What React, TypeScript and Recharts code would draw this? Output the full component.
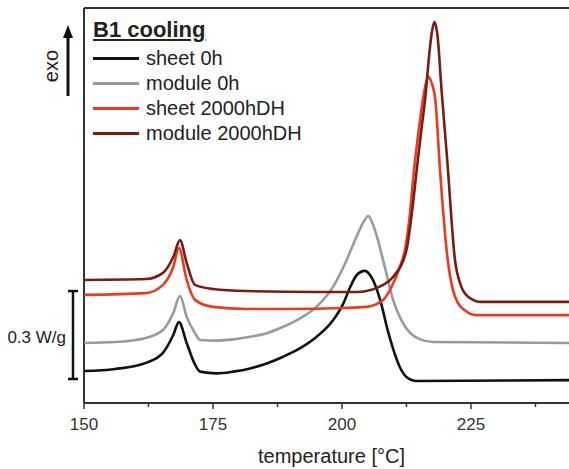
import { Legend, Line, LineChart, ReferenceLine, XAxis, YAxis } from 'recharts';

// temperature [°C] and heat flow [W/g, offset per curve]
const tSheet0h = [150, 156, 162, 165.3, 167.3, 168.4, 169.9, 171.5, 172.5, 175.7, 178.9, 182.2, 185.4, 188.6, 191.9, 195.1, 198.3, 200.3, 201.6, 202.7, 203.6, 204.5, 205.3, 206, 207.4, 209, 211.2, 212.5, 214.5, 244];
const wSheet0h = [0.109, 0.116, 0.137, 0.171, 0.232, 0.276, 0.205, 0.132, 0.107, 0.101, 0.107, 0.118, 0.135, 0.158, 0.187, 0.226, 0.283, 0.341, 0.396, 0.433, 0.447, 0.451, 0.44, 0.42, 0.352, 0.239, 0.123, 0.089, 0.075, 0.078];

const tModule0h = [150, 156, 162, 165.3, 167.3, 168.6, 169.9, 171.5, 172.5, 175.7, 178.9, 182.2, 185.4, 188.6, 191.9, 195.1, 198.3, 200.9, 202.8, 204.2, 205.1, 205.8, 206.5, 208.3, 209.9, 211.5, 213.2, 215, 217.7, 244];
const wModule0h = [0.205, 0.208, 0.222, 0.249, 0.307, 0.365, 0.294, 0.239, 0.215, 0.213, 0.217, 0.226, 0.238, 0.26, 0.289, 0.329, 0.397, 0.488, 0.567, 0.618, 0.638, 0.618, 0.584, 0.464, 0.352, 0.283, 0.239, 0.218, 0.208, 0.205];

const tSheet2000 = [150, 162, 165.3, 167.3, 168.4, 169.9, 171.5, 175, 181.5, 190, 200, 204.8, 208, 209.6, 211.2, 212.2, 213, 214, 215, 216, 216.7, 217.3, 218.1, 219, 220.5, 221.5, 222.5, 224, 226, 244];
const wSheet2000 = [0.369, 0.375, 0.403, 0.464, 0.529, 0.42, 0.352, 0.328, 0.321, 0.321, 0.324, 0.328, 0.352, 0.396, 0.464, 0.522, 0.618, 0.802, 0.949, 1.068, 1.113, 1.096, 1.034, 0.795, 0.488, 0.386, 0.341, 0.314, 0.3, 0.3];

const tModule2000 = [150, 162, 165.3, 167.3, 168.6, 169.9, 171.5, 175, 181.5, 195, 203, 208, 209.9, 212.5, 213.5, 214.7, 215.5, 216.1, 217, 217.4, 217.9, 218.2, 218.5, 219.3, 220.4, 221.9, 223, 224.5, 227, 244];
const wModule2000 = [0.42, 0.423, 0.444, 0.498, 0.556, 0.478, 0.403, 0.389, 0.382, 0.379, 0.379, 0.403, 0.43, 0.522, 0.642, 0.829, 0.949, 1.034, 1.205, 1.263, 1.3, 1.287, 1.256, 1.068, 0.829, 0.488, 0.403, 0.362, 0.345, 0.345];

const seriesNames = ['sheet 0h', 'module 0h', 'sheet 2000hDH', 'module 2000hDH'];
const seriesColors = ['#111111', '#9a9a9a', '#ea3b1e', '#7a1c12'];

const xTicks = [150, 162.5, 175, 187.5, 200, 212.5, 225, 237.5];
const majorTicks = [150, 175, 200, 225];

const W = 569;
const H = 469;
const X_AXIS_H = 66;
const M = { top: 8, right: 0, bottom: 0, left: 84 };
const X_MIN = 150;
const X_MAX = 244;
const Y_MAX = 1.348;
const FONT = '"Liberation Sans", Arial, Helvetica, sans-serif';

const pts = (t: number[], w: number[]) => t.map((x, i) => ({ x, y: w[i] }));
const series = [
    pts(tSheet0h, wSheet0h),
    pts(tModule0h, wModule0h),
    pts(tSheet2000, wSheet2000),
    pts(tModule2000, wModule2000),
];

// pixel y of a heat-flow value (for the scale bar drawn outside the plot)
const yPix = (v: number) => M.top + (1 - v / Y_MAX) * (H - M.top - X_AXIS_H);

function XTick({ x, y, payload }: any) {
    const major = majorTicks.includes(payload.value);
    return (
        <g>
            <line x1={x} x2={x} y1={y} y2={y + (major ? 6 : 4)} stroke="#333" strokeWidth={1.5} />
            {major && (
                <text x={x} y={y + 27} textAnchor="middle" fontSize={17} fontFamily={FONT} fill="#333">
                    {payload.value}
                </text>
            )}
        </g>
    );
}

function LegendBox({ payload }: any) {
    const items = [...(payload || [])].sort(
        (a: any, b: any) => seriesNames.indexOf(a.value) - seriesNames.indexOf(b.value),
    );
    return (
        <div style={{ fontFamily: FONT, color: '#222' }}>
            <div style={{ height: 28, lineHeight: '24px', fontSize: 22, fontWeight: 'bold', textDecoration: 'underline' }}>
                B1 cooling
            </div>
            {items.map((p: any) => (
                <div key={p.value} style={{ display: 'flex', alignItems: 'center', height: 25, fontSize: 20 }}>
                    <span style={{ display: 'inline-block', width: 46, height: 3, background: p.color, marginRight: 7 }} />
                    {p.value}
                </div>
            ))}
        </div>
    );
}

export default function App() {
    const barTop = yPix(0.382);
    const barBottom = yPix(0.082);
    return (
        <div style={{ position: 'absolute', left: 0, top: 0, width: W, height: H, background: '#fff' }}>
            <LineChart width={W} height={H} margin={M}>
                <XAxis
                    dataKey="x"
                    type="number"
                    domain={[X_MIN, X_MAX]}
                    ticks={xTicks}
                    tick={<XTick />}
                    tickLine={false}
                    tickSize={0}
                    tickMargin={0}
                    height={X_AXIS_H}
                    axisLine={{ stroke: '#333', strokeWidth: 2 }}
                    allowDataOverflow
                    label={{ value: 'temperature [°C]', position: 'insideBottom', offset: 6, dx: 5, fontSize: 20, fontFamily: FONT, fill: '#222' }}
                />
                <YAxis type="number" domain={[0, Y_MAX]} width={0} tick={false} tickLine={false} axisLine={false} />
                <ReferenceLine x={X_MIN} stroke="#333" strokeWidth={2} ifOverflow="visible" />
                <ReferenceLine y={Y_MAX} stroke="#333" strokeWidth={2} ifOverflow="visible" />
                <Legend
                    layout="vertical"
                    align="center"
                    verticalAlign="middle"
                    content={<LegendBox />}
                    wrapperStyle={{ position: 'absolute', left: 93, top: 18, width: 260 }}
                />
                {series.map((d, i) => (
                    <Line
                        key={seriesNames[i]}
                        data={d}
                        dataKey="y"
                        name={seriesNames[i]}
                        type="monotone"
                        stroke={seriesColors[i]}
                        strokeWidth={2.6}
                        dot={false}
                        activeDot={false}
                        isAnimationActive={false}
                    />
                ))}
                <g>
                    <text x={51} y={66} transform="rotate(-90 51 66)" textAnchor="middle" dominantBaseline="central" fontSize={20} fontFamily={FONT} fill="#222">
                        exo
                    </text>
                    <line x1={68} x2={68} y1={96} y2={36} stroke="#111" strokeWidth={3} />
                    <polygon points="63,38 73,38 68,25" fill="#111" />
                    <line x1={73} x2={73} y1={barTop} y2={barBottom} stroke="#111" strokeWidth={2.5} />
                    <line x1={68} x2={78} y1={barTop} y2={barTop} stroke="#111" strokeWidth={2.5} />
                    <line x1={68} x2={78} y1={barBottom} y2={barBottom} stroke="#111" strokeWidth={2.5} />
                    <text x={66} y={343} textAnchor="end" fontSize={17} fontFamily={FONT} fill="#222">
                        0.3 W/g
                    </text>
                </g>
            </LineChart>
        </div>
    );
}
